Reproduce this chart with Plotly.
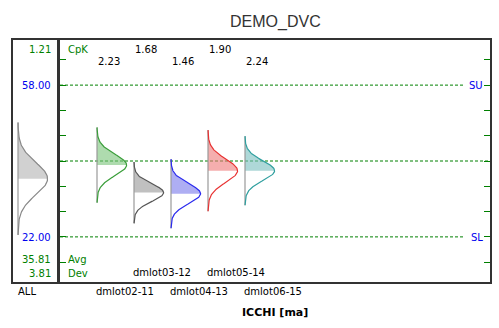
import numpy as np
import plotly.graph_objects as go

W, H = 499, 328

# ---- data ----
title = "DEMO_DVC"
x_title = "ICCHI [ma]"
lots = ["dmlot02-11", "dmlot03-12", "dmlot04-13", "dmlot05-14", "dmlot06-15"]
lot_means = [39.05, 32.5, 32.25, 37.7, 37.7]
lot_sigmas = [2.55, 2.08, 2.34, 2.75, 2.34]
lot_cpk = ["2.23", "1.68", "1.46", "1.90", "2.24"]
all_label = "ALL"
all_mean = 35.81
all_sigma = 3.81
all_cpk = "1.21"
usl, lsl, center = 58.0, 22.0, 40.0
y_ticks = [16, 22, 28, 34, 40, 46, 52, 58, 64]

line_colors = ["#3a9e3a", "#555555", "#2a2aee", "#e83232", "#2f9f9f"]
fill_colors = ["rgba(120,195,120,0.6)", "rgba(150,150,150,0.6)", "rgba(120,120,235,0.6)",
               "rgba(238,120,120,0.6)", "rgba(120,190,190,0.6)"]

GREEN = "#008000"
BLUE = "#0000ee"

def px(x):
    return x / W

def py(y):
    return 1 - y / H

# y scale: range symmetric around center
y_range = [11.3, 68.7]

# x scale: 37 px per category
unit = 37.0
right_l, right_r = 60, 490
left_l, left_r = 13, 57
x2_range = [0, (right_r - right_l) / unit]
x1_range = [-(18 - left_l) / unit, (left_r - 18) / unit]
peak_w = 0.8

fig = go.Figure()

def add_dist(base, mean, sigma, lc, fc, xa, ya):
    z = np.linspace(-3.5, 3.5, 141)
    yy = mean + z * sigma
    xx = base + peak_w * np.exp(-0.5 * z ** 2)
    # fill upper half
    zu = z[z >= 0]
    yu = mean + zu * sigma
    xu = base + peak_w * np.exp(-0.5 * zu ** 2)
    fx = [base] + list(xu) + [base]
    fy = [mean] + list(yu) + [yu[-1]]
    fig.add_trace(go.Scatter(x=fx, y=fy, fill="toself", fillcolor=fc, mode="none",
                             xaxis=xa, yaxis=ya, hoverinfo="skip", showlegend=False))
    fig.add_trace(go.Scatter(x=[base, base], y=[yy[0], yy[-1]], mode="lines",
                             line=dict(color="#999999", width=1.2),
                             xaxis=xa, yaxis=ya, hoverinfo="skip", showlegend=False))
    fig.add_trace(go.Scatter(x=xx, y=yy, mode="lines", line=dict(color=lc, width=1.2),
                             xaxis=xa, yaxis=ya, showlegend=False))

# ALL distribution (left panel)
add_dist(0, all_mean, all_sigma, "#888888", "rgba(190,190,190,0.7)", "x", "y")

# lots (right panel)
for i, (m, s) in enumerate(zip(lot_means, lot_sigmas)):
    add_dist(1 + i, m, s, line_colors[i], fill_colors[i], "x2", "y2")

fig.update_layout(
    width=W, height=H, margin=dict(l=0, r=0, t=0, b=0),
    paper_bgcolor="white", plot_bgcolor="white",
    xaxis=dict(domain=[px(left_l), px(left_r)], range=x1_range, showgrid=False, zeroline=False,
               showticklabels=False, ticks="", showline=True, mirror=True,
               linecolor="#333333", linewidth=1.5, anchor="y"),
    yaxis=dict(domain=[py(282), py(40)], range=y_range, showgrid=False, zeroline=False,
               showticklabels=False, ticks="", showline=True, mirror=True,
               linecolor="#333333", linewidth=1.5, anchor="x"),
    xaxis2=dict(domain=[px(right_l), px(right_r)], range=x2_range, showgrid=False, zeroline=False,
                showticklabels=False, ticks="", showline=True, mirror=True,
                linecolor="#333333", linewidth=1.5, anchor="y2"),
    yaxis2=dict(domain=[py(282), py(40)], range=y_range, showgrid=False, zeroline=False,
                showticklabels=False, ticks="inside", ticklen=6, tickwidth=1.2, tickcolor=GREEN,
                tickvals=y_ticks, showline=True, mirror="allticks",
                linecolor="#333333", linewidth=1.5, anchor="x2"),
)

# dashed limit / center lines
su_end = (465 - right_l) / unit
for yv, x1 in [(usl, su_end), (lsl, su_end), (center, x2_range[1])]:
    fig.add_shape(type="line", xref="x2", yref="y2", x0=0, x1=x1, y0=yv, y1=yv,
                  line=dict(color=GREEN, width=1, dash="3px,2px"), layer="below")

ann = []
def txt(text, x, y, xref="paper", yref="paper", color="#000000", xanchor="center",
        size=10, family="DejaVu Sans", bold=False):
    t = f"<b>{text}</b>" if bold else text
    ann.append(dict(text=t, x=x, y=y, xref=xref, yref=yref, showarrow=False,
                    xanchor=xanchor, yanchor="middle",
                    font=dict(family=family, size=size, color=color)))

# title and axis title
txt(title, px(275), py(22), color="#333333", size=16, family="Liberation Sans")
txt(x_title, px(275), py(312), size=11, bold=True)

# left panel text
txt(all_cpk, px(53), py(49), color=GREEN, xanchor="right")
txt(f"{usl:.2f}", px(53), py(85), color=BLUE, xanchor="right")
txt(f"{lsl:.2f}", px(53), py(237), color=BLUE, xanchor="right")
txt(f"{all_mean:.2f}", px(53), py(259), color=GREEN, xanchor="right")
txt(f"{all_sigma:.2f}", px(53), py(273), color=GREEN, xanchor="right")
txt(all_label, px(27), py(291))

# right panel fixed labels
txt("CpK", px(66), py(49), color=GREEN, xanchor="left")
txt("Avg", px(66), py(259), color=GREEN, xanchor="left")
txt("Dev", px(66), py(273), color=GREEN, xanchor="left")
txt("SU", px(476), py(85), color=BLUE)
txt("SL", px(477), py(237), color=BLUE)

# lot labels
for i, (name, c) in enumerate(zip(lots, lot_cpk)):
    base = 1 + i
    cy = 62 if i % 2 == 0 else 49
    txt(c, base - 0.03, py(cy), xref="x2", xanchor="left")
    ny = 291 if i % 2 == 0 else 272
    txt(name, base + 0.76, py(ny), xref="x2")

fig.update_layout(annotations=ann)
fig.write_html("out.html")
